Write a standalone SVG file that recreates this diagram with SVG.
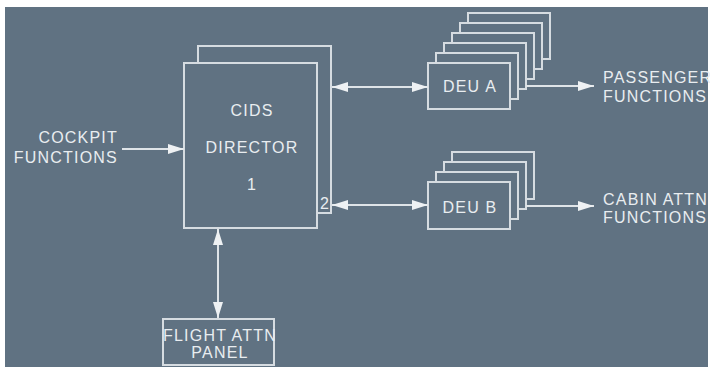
<svg xmlns="http://www.w3.org/2000/svg" width="710" height="367" viewBox="0 0 710 367">
<style>
.bx{fill:#607282;stroke:#d6dce1;stroke-width:2}
.ln{stroke:#dfe4e8;stroke-width:2;fill:none}
text{font-family:"Liberation Sans",Arial,sans-serif;font-size:16px;fill:#e9edf0;letter-spacing:1.2px}
.m{text-anchor:middle}
.e{text-anchor:end}
</style>
<defs>
<marker id="ah" markerUnits="userSpaceOnUse" markerWidth="16" markerHeight="10" refX="16" refY="5" orient="auto-start-reverse">
<path d="M0,0 L16,5 L0,10 Z" fill="#eef1f3"/>
</marker>
</defs>
<rect x="0" y="0" width="710" height="367" fill="#ffffff"/>
<rect x="5" y="7" width="703" height="360" fill="#607282"/>
<g id="director">
<rect class="bx" x="198" y="46" width="133" height="167"/>
<rect class="bx" x="184" y="63" width="133" height="165"/>
<text class="m" x="252" y="116">CIDS</text>
<text class="m" x="252" y="153">DIRECTOR</text>
<text class="m" x="252" y="190">1</text>
<text class="m" x="325" y="209">2</text>
</g>
<g id="deu-a">
<rect class="bx" x="468" y="13" width="82" height="46"/>
<rect class="bx" x="460" y="23" width="82" height="46"/>
<rect class="bx" x="452" y="33" width="82" height="46"/>
<rect class="bx" x="444" y="43" width="82" height="46"/>
<rect class="bx" x="436" y="53" width="82" height="46"/>
<rect class="bx" x="428" y="63" width="82" height="46"/>
<text class="m" x="470" y="92">DEU A</text>
</g>
<g id="deu-b">
<rect class="bx" x="452" y="152" width="82" height="47"/>
<rect class="bx" x="444" y="162" width="82" height="47"/>
<rect class="bx" x="436" y="172" width="82" height="47"/>
<rect class="bx" x="428" y="182" width="82" height="47"/>
<text class="m" x="470" y="213">DEU B</text>
</g>
<g id="panel">
<rect class="bx" x="163" y="319" width="111" height="46"/>
<text class="m" x="220" y="341">FLIGHT ATTN</text>
<text class="m" x="220" y="358">PANEL</text>
</g>
<g id="cockpit">
<text class="e" x="118" y="143">COCKPIT</text>
<text class="e" x="118" y="163">FUNCTIONS</text>
</g>
<g id="passenger">
<text x="603" y="83">PASSENGER</text>
<text x="603" y="102">FUNCTIONS</text>
</g>
<g id="cabin">
<text x="603" y="205">CABIN ATTN</text>
<text x="603" y="223">FUNCTIONS</text>
</g>
<g id="connectors">
<line class="ln" x1="122" y1="149" x2="184" y2="149" marker-end="url(#ah)"/>
<line class="ln" x1="332" y1="87" x2="428" y2="87" marker-start="url(#ah)" marker-end="url(#ah)"/>
<line class="ln" x1="332" y1="205" x2="428" y2="205" marker-start="url(#ah)" marker-end="url(#ah)"/>
<line class="ln" x1="526" y1="86" x2="594" y2="86" marker-end="url(#ah)"/>
<line class="ln" x1="526" y1="206" x2="594" y2="206" marker-end="url(#ah)"/>
<line class="ln" x1="218" y1="229" x2="218" y2="318" marker-start="url(#ah)" marker-end="url(#ah)"/>
</g>
</svg>
